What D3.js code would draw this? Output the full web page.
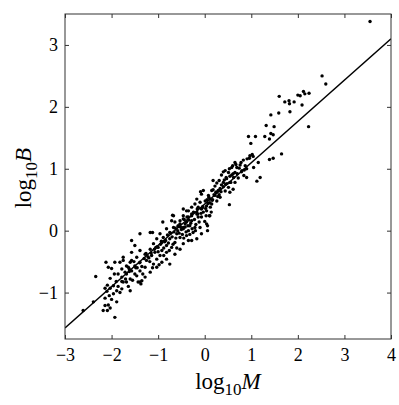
<!DOCTYPE html>
<html>
<head>
<meta charset="utf-8">
<script src="https://cdn.jsdelivr.net/npm/d3@7"></script>
<style>
  body { margin: 0; background: #fff; }
  text { font-family: "Liberation Serif", "DejaVu Serif", serif; }
</style>
</head>
<body>
<div id="chart"></div>
<script>
// points: log10 M (x) and log10 B (y)
const logM = [
  3.55, 2.52, 2.60, 1.60, 1.72, 1.81, 1.82, 1.92, 2.00, 2.05, 2.12, 2.15, 2.24,
  1.42, 1.59, 1.83, 2.09, 2.23, 1.32, 1.49, 0.94, 1.09, 1.29, 1.42, 1.47, 1.39,
  0.99, 1.65, 1.47, 1.39, 0.97, 1.02, 1.04, 0.96, 1.15, 0.83, 0.67, 0.58, 0.74,
  0.87, 0.90, 0.79, 0.51, 0.40, 0.61, 0.36, 0.54, 0.84, 1.19, 0.46, 0.72, 1.12,
  0.53, 0.06, 0.03, 0.10,
  0.91, 0.76, 0.69, 0.60, 0.53, 0.65, 0.44, 0.58, 0.90, 0.47, 0.31, 0.26, 0.40,
  0.54, 0.65, 0.22, 0.40, 0.51, 0.61, 0.15, 0.29, 0.44, 0.54, -0.09, -0.03, -0.07,
  0.08, 0.22, 0.33, 0.11, 0.01, 0.26, -0.17, -0.10, 0.15, -0.21, 0.04, -0.28, -0.07,
  -0.39, -0.17, -0.28, 0.11, -0.46, -0.35, -0.67, -0.53, -0.64, -0.71, -0.42, -0.28,
  -0.57, -0.46, -0.67,
  -0.14, -0.04, 0.04, -0.35, -0.69, -0.28, -0.17, -0.07, 0.04, 0.06, -0.90, -0.46,
  -0.39, -0.53, -0.32, -0.21, -0.82, -0.46, -0.35, -1.17, -1.12, -1.39, -0.96, -0.75,
  -0.60, -0.25, -0.07, -0.39, -0.89, -0.53, -1.03, -0.75, -0.35, -0.28, -0.17, -1.57,
  -0.92, -0.64, -0.46, -1.10, -0.82, -1.50, -1.00, -0.71, -0.53, -1.17, -0.92, -1.39,
  -1.57, -0.82, -1.07, -1.28, -0.64, -0.96, -1.14, -1.46, -0.82, -1.03, -1.75, -1.25,
  -1.60, -1.39, -0.92, -1.10, -1.68, -1.50, -1.28, -1.03, -0.75, -1.78, -1.57, -1.39,
  -1.17, -1.68, -1.46, -1.28, -1.78,
  -2.34, -2.12, -2.07, -2.00, -1.93, -1.82, -1.94, -1.86, -2.03, -1.78, -1.90, -1.75,
  -2.09, -1.96, -1.86, -2.03, -1.78, -2.10, -1.89, -1.82, -1.96, -2.05, -1.60, -1.39,
  -2.00, -1.89, -2.14, -2.07, -2.03, -2.18, -2.09, -1.93, -2.39, -2.61, -1.68, -1.60,
  -1.71, -1.64, -1.75, -2.14, -2.14, -1.64, -1.43, -1.57,
  0.65, 0.18, 0.18, -0.46, 0.11, -1.35, -1.37,
  -1.30, -1.22, -1.18, -1.08, -1.00, -0.95, -0.88, -0.86, -0.78, -0.70, -0.66, -0.62,
  -0.58, -0.55, -0.50, -0.48, -0.42, -0.40, -0.36, -0.30, -0.27, -0.22, -0.19, -0.14,
  -0.12, -0.08, -0.03, 0.02, 0.07, 0.12, 0.17, 0.20, 0.24, 0.28, 0.33, 0.36, 0.42,
  0.48, -1.45, -1.52, -1.35, -1.62, -1.70, -1.55, -1.50, -1.33, -1.12, -0.98, -0.88,
  -0.76, -0.68, -0.60, -0.45, -0.32, -0.20, -0.10, 0.00, 0.14, 0.70, 0.78, 0.85, 1.05,
  -1.40, -1.26, -1.15, -1.05, -0.93, -0.84, -0.73, -0.63, -0.52, -0.44, -0.34, -0.24,
  -0.16, -0.05, 0.05, 0.16, 0.25, 0.35, 0.45, 0.56, -1.62, -1.48, -1.20, -1.02,
  -0.80, -0.57, -0.38, -0.15, 0.09, 0.31, 0.62, 0.80
];
const logB = [
  3.38, 2.50, 2.37, 2.17, 2.08, 2.10, 2.05, 2.08, 2.19, 2.18, 2.25, 2.21, 2.22,
  1.87, 1.90, 1.92, 2.03, 1.68, 1.70, 1.68, 1.52, 1.52, 1.52, 1.57, 1.55, 1.48,
  1.41, 1.24, 1.17, 1.15, 1.21, 1.23, 1.20, 1.17, 1.10, 1.14, 1.07, 1.02, 1.01,
  1.05, 1.00, 0.95, 0.94, 0.95, 0.92, 0.90, 0.88, 0.89, 0.86, 0.86, 0.85, 0.80,
  0.42, 0.08, 0.24, 0.24,
  1.16, 1.06, 1.02, 1.05, 1.00, 0.94, 0.97, 0.90, 0.86, 0.84, 0.81, 0.77, 0.78,
  0.78, 0.78, 0.72, 0.71, 0.70, 0.67, 0.65, 0.65, 0.64, 0.62, 0.63, 0.65, 0.59,
  0.57, 0.57, 0.54, 0.51, 0.48, 0.48, 0.51, 0.46, 0.43, 0.43, 0.40, 0.38, 0.35,
  0.32, 0.30, 0.27, 0.24, 0.24, 0.22, 0.24, 0.16, 0.14, 0.16, 0.11, 0.16,
  0.08, 0.05, 0.05,
  0.38, 0.39, 0.32, 0.32, 0.25, 0.24, 0.27, 0.22, 0.11, 0.00, 0.14, 0.19,
  0.14, 0.11, 0.08, 0.05, 0.03, 0.03, 0.00, -0.03, -0.03, -0.05, -0.05, -0.03,
  -0.05, -0.03, -0.05, -0.08, -0.11, -0.11, -0.13, -0.13, -0.16, -0.16, -0.13, -0.16,
  -0.19, -0.19, -0.21, -0.21, -0.24, -0.24, -0.27, -0.27, -0.30, -0.30, -0.32, -0.32,
  -0.35, -0.35, -0.35, -0.38, -0.38, -0.40, -0.40, -0.43, -0.46, -0.46, -0.48, -0.48,
  -0.51, -0.51, -0.51, -0.54, -0.57, -0.57, -0.59, -0.59, -0.54, -0.62, -0.65, -0.65,
  -0.67, -0.70, -0.73, -0.75, -0.75,
  -0.74, -0.51, -0.59, -0.61, -0.51, -0.51, -0.70, -0.70, -0.77, -0.82, -0.82, -0.83,
  -0.88, -0.89, -0.90, -0.93, -0.94, -0.98, -0.97, -1.00, -1.02, -1.05, -0.97, -0.83,
  -1.11, -1.15, -1.21, -1.20, -1.25, -1.29, -1.29, -1.40, -1.15, -1.29, -0.83, -0.78,
  -0.67, -0.59, -0.43, -0.93, -1.09, -0.90, -0.83, -0.48,
  1.10, 0.81, 0.66, 0.35, 0.45, -0.81, -0.86,
  -0.45, -0.42, -0.50, -0.30, -0.34, -0.22, -0.28, -0.18, -0.20, -0.10, -0.02, -0.12,
  0.00, -0.04, 0.02, -0.06, 0.06, -0.02, 0.08, 0.12, 0.03, 0.18, 0.10, 0.22,
  0.14, 0.28, 0.30, 0.36, 0.44, 0.38, 0.50, 0.58, 0.62, 0.55, 0.68, 0.74, 0.82,
  0.76, -0.60, -0.50, -0.58, -0.62, -0.78, -0.80, -0.70, -0.70, -0.60, -0.55, -0.40,
  -0.32, -0.22, -0.28, -0.12, -0.06, 0.00, 0.05, 0.15, 0.30, 0.92, 1.10, 0.98, 1.02,
  -0.52, -0.37, -0.36, -0.27, -0.17, -0.16, -0.04, 0.04, 0.06, 0.18, 0.17, 0.30,
  0.35, 0.37, 0.50, 0.49, 0.62, 0.63, 0.75, 0.78, -0.66, -0.60, -0.44, -0.26,
  -0.07, 0.07, 0.22, 0.27, 0.54, 0.58, 0.86, 0.97
];
// fitted line end points
const fitM = [-3, 4];
const fitB = [-1.57, 3.10];

const xTicks = [-3, -2, -1, 0, 1, 2, 3, 4];
const yTicks = [-1, 0, 1, 2, 3];

const width = 399, height = 405;
const margin = {top: 14, right: 8, bottom: 66, left: 65};
const w = width - margin.left - margin.right;
const h = height - margin.top - margin.bottom;

const svg = d3.select("#chart").append("svg")
  .attr("width", width)
  .attr("height", height);

const g = svg.append("g")
  .attr("transform", `translate(${margin.left},${margin.top})`);

const x = d3.scaleLinear().domain([-3, 4]).range([0, w]);
const y = d3.scaleLinear().domain([-1.75, 3.5]).range([h, 0]);

g.append("defs").append("clipPath").attr("id", "clip")
  .append("rect").attr("width", w).attr("height", h);

// points
const pts = logM.map((m, i) => ({m: m, b: logB[i]}));
g.append("g")
  .selectAll("circle")
  .data(pts)
  .join("circle")
  .attr("cx", d => x(d.m))
  .attr("cy", d => y(d.b))
  .attr("r", 1.7)
  .attr("fill", "#000");

// fit line
const line = d3.line().x(d => x(d[0])).y(d => y(d[1]));
g.append("path")
  .datum(fitM.map((m, i) => [m, fitB[i]]))
  .attr("clip-path", "url(#clip)")
  .attr("d", line)
  .attr("fill", "none")
  .attr("stroke", "#000")
  .attr("stroke-width", 1.4);

// axes, ticks pointing inwards
const fmt = d3.format("d");
const styleAxis = sel => {
  sel.attr("font-family", null).attr("font-size", null);
  sel.select(".domain").remove();
  sel.selectAll(".tick line").attr("stroke", "#333");
  sel.selectAll("text")
    .attr("fill", "#000")
    .style("font-family", "Liberation Serif")
    .style("font-size", "18px");
};

g.append("g")
  .attr("transform", `translate(0,${h})`)
  .call(d3.axisBottom(x).tickValues(xTicks).tickFormat(fmt).tickSize(-4).tickPadding(9))
  .call(styleAxis);

g.append("g")
  .call(d3.axisTop(x).tickValues(xTicks).tickSize(-4).tickFormat(""))
  .call(styleAxis);

g.append("g")
  .call(d3.axisLeft(y).tickValues(yTicks).tickFormat(fmt).tickSize(-4).tickPadding(7))
  .call(styleAxis);

g.append("g")
  .attr("transform", `translate(${w},0)`)
  .call(d3.axisRight(y).tickValues(yTicks).tickSize(-4).tickFormat(""))
  .call(styleAxis);

g.append("rect")
  .attr("width", w)
  .attr("height", h)
  .attr("fill", "none")
  .attr("stroke", "#333")
  .attr("stroke-width", 1);

// axis titles
const xt = svg.append("text")
  .attr("x", margin.left + w / 2)
  .attr("y", 389)
  .attr("text-anchor", "middle")
  .style("font-size", "23px");
xt.append("tspan").text("log");
xt.append("tspan").attr("dy", 6).style("font-size", "17px").text("10");
xt.append("tspan").attr("dy", -6).style("font-style", "italic").text("M");

const yt = svg.append("text")
  .attr("transform", `translate(31,${margin.top + y(0.85)}) rotate(-90)`)
  .attr("text-anchor", "middle")
  .style("font-size", "23px");
yt.append("tspan").text("log");
yt.append("tspan").attr("dy", 6).style("font-size", "17px").text("10");
yt.append("tspan").attr("dy", -6).style("font-style", "italic").text("B");
</script>
</body>
</html>
